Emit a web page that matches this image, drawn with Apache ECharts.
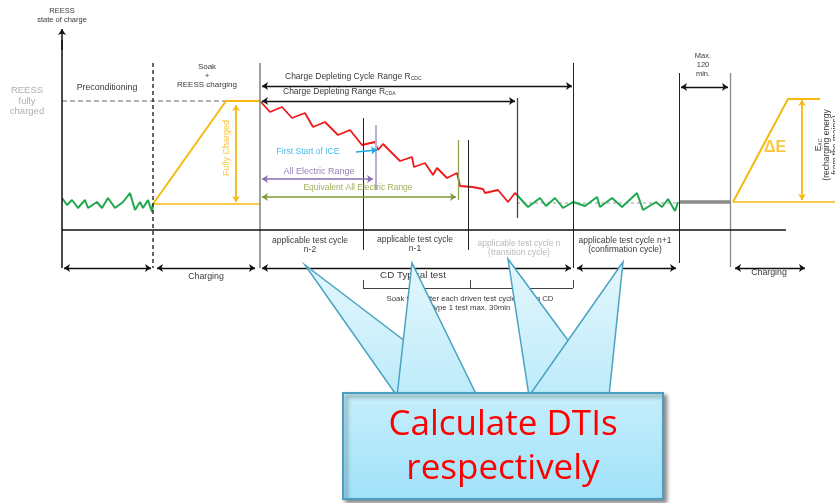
<!DOCTYPE html>
<html><head><meta charset="utf-8">
<script src="https://cdn.jsdelivr.net/npm/echarts@6/dist/echarts.min.js"></script>
<style>html,body{margin:0;padding:0;background:#fff}#c{width:835px;height:503px}</style>
</head><body><div id="c"></div><script>
// ---- data (t = time units from origin, s = state-of-charge units above the time axis) ----
const greenPrecondition = [[0,32],[5,25],[10,30],[16,22],[23,30],[26,22],[35,28],[40,22],[46,32],[53,22],[61,28],[68,37],[73,20],[78,28],[81,22],[86,30],[90,18],[91,27]];
const redChargeDepleting = [[198,129],[208,118],[220,123],[230,112],[243,117],[251,103],[263,108],[276,95],[288,100],[300,85],[313,88],[316,80],[321,86],[338,69],[350,73],[352,63],[363,67],[371,55],[375,62],[385,52],[395,57],[398,44],[410,43],[421,41],[423,37],[436,40],[446,28],[453,37],[455,35]];
const greenChargeSustaining = [[455,35],[466,23],[478,32],[484,24],[493,32],[501,22],[511,28],[523,24],[535,33],[538,23],[550,32],[560,23],[575,37],[581,20],[594,28],[600,23],[606,31],[613,19],[616,28]];
const chargingSoak = [[91,26],[164,129],[198,129]];
const chargingSoakBase = [[91,26],[198,26]];
const chargingFinal = [[671,28],[726,131],[758,131]];
const chargingFinalBase = [[671,28],[773,28]];
const fullyChargedLevel = 129;
const sustainLevel = 27;
const cycleLabels = ['applicable test cycle\nn-2','applicable test cycle\nn-1','applicable test cycle n\n(transition cycle)','applicable test cycle n+1\n(confirmation cycle)'];
const calloutText = 'Calculate DTIs\nrespectively';

const FONT = '"Liberation Sans", Arial, sans-serif';
const GREEN = '#1fa84f', RED = '#f01818', YEL = '#f5b90f', INK = '#000';

function poly(data, color, width, type, z) {
  return {type:'line', data, symbol:'none', silent:true, animation:false, z: z||3,
    lineStyle:{color, width, type: type||'solid'}};
}
function segs(items, symbol, size) {
  return {type:'lines', coordinateSystem:'cartesian2d', silent:true, animation:false, z:4,
    symbol: symbol || 'none', symbolSize: size || 6,
    data: items.map(([a,b,c,d,color,width,type]) => ({coords:[[a,b],[c,d]], lineStyle:{color, width:width||1, type:type||'solid', opacity:1}}))};
}
function txt(t, s, text, o) {
  o = o || {};
  const col = o.color || INK;
  return {value:[t,s], label:{show:true, position:'inside', formatter:text, color:col,
    fontSize:o.size||8.5, fontFamily:FONT, fontWeight:o.bold?'bold':'normal', lineHeight:o.lh||9,
    align:o.align||'center', rotate:o.rotate||0,
    rich:{sub:{fontSize:5, fontFamily:FONT, color:col, verticalAlign:'bottom', padding:[5,0,0,0]}}}};
}

const verticals = [
  [91,167,91,-38,'#333',1.5,[4,3]],
  [198,167,198,-38,'#8a8a8a',1.6],
  [301,112,301,-20,'#222',1],
  [314,105,314,40,'#b9b0d4',2],
  [396,90,396,30,'#8fa54e',1.3],
  [406,90,406,-20,'#222',1],
  [455,132,455,12,'#444',1.3],
  [511,167,511,-38,'#222',1],
  [617,157,617,-33,'#222',1],
  [668,157,668,-37,'#8a8a8a',1.3],
  [0,0,724,0,'#111',1.5],
  [0,-38,0,190,'#111',1.5],
  [301,-50,301,-58,'#444',1],[408,-50,408,-58,'#444',1],[511,-50,511,-58,'#444',1],[301,-58,511,-58,'#444',1]
];
const doubleArrows = [
  [2,-38,89,-38,'#111',1.3],[95,-38,193,-38,'#111',1.3],[200,-38,509,-38,'#111',1.3],
  [515,-38,614,-38,'#111',1.3],[673,-38,743,-38,'#111',1.3],
  [200,144,510,144,'#111',1.3],[200,129,453,129,'#111',1.3],[619,143,666,143,'#111',1.3],
  [200,51,311,51,'#8a6fb0',1.5],[200,33,394,33,'#7d9a3a',1.5],
  [174,125,174,28,YEL,1.8],[740,130,740,30,YEL,1.8]
];
const singleArrows = [[294,78,315,80,'#1aa8e6',1.5],[0,180,0,201,'#111',1.5]];

const labels = [
  txt(0,219,'REESS',{size:7.5}), txt(0,210,'state of charge',{size:7.5}),
  txt(-35,129,'REESS\nfully\ncharged',{color:'#9a9a9a',size:9.5,lh:10.5}),
  txt(45,142,'Preconditioning',{size:8.8}),
  txt(145,154,'Soak\n+\nREESS charging',{size:8,lh:9}),
  txt(165,82,'Fully Charged',{color:YEL,size:9,rotate:90}),
  txt(223,153,'Charge Depleting Cycle Range R{sub|CDC}',{size:8.5,align:'left'}),
  txt(221,138,'Charge Depleting Range R{sub|CDA}',{size:8.5,align:'left'}),
  txt(246,78,'First Start of ICE',{color:'#1aa8e6',size:8.5}),
  txt(257,58,'All Electric Range',{color:'#7a5fa8',size:9}),
  txt(296,42,'Equivalent All Electric Range',{color:'#8c9a2a',size:8.5}),
  txt(248,-15.5,cycleLabels[0]), txt(353,-14,cycleLabels[1]),
  txt(457,-18.5,cycleLabels[2],{color:'#a8a8a8'}), txt(563,-15.5,cycleLabels[3]),
  txt(144,-47,'Charging',{size:8.8}), txt(707,-43,'Charging',{size:8.8}),
  txt(351,-45,'CD Typical test',{size:9.8}),
  txt(408,-73.5,'Soak time after each driven test cycle during CD\nType 1 test max. 30min',{size:7.8}),
  txt(641,165,'Max.\n120\nmin.',{size:7.5}),
  txt(713,82,'ΔE',{color:YEL,size:16,bold:true}),
  txt(765,85,'E{sub|AC}\n(recharging energy\nfrom the mains)',{size:8.5,rotate:90,lh:8.5})
];

const callout = {
  type:'custom', coordinateSystem:'cartesian2d', silent:true, animation:false, z:10,
  data:[[0,0]],
  renderItem:(params, api) => {
    const P = (t,s) => api.coord([t,s]);
    const tips = [[243,-35,335,415],[350,-33,335,415],[446,-29,467,547],[561,-32,467,547]];
    const grad = (a,b) => ({type:'linear',x:0,y:0,x2:0,y2:1,colorStops:[{offset:0,color:a},{offset:1,color:b}]});
    const children = tips.map(([t,s,b1,b2]) => ({type:'polygon',
      shape:{points:[P(t,s),P(b1,-166),P(b2,-166)]},
      style:{fill:grad('#e4f7fd','#bdebfa'), stroke:'#4aa3c2', lineWidth:1.5}}));
    const tl = P(281,-163), br = P(601,-269);
    children.push({type:'rect', shape:{x:tl[0],y:tl[1],width:br[0]-tl[0],height:br[1]-tl[1]},
      style:{fill:grad('#c6eefb','#a0e2fa'), stroke:'#4a9fc0', lineWidth:2,
        shadowBlur:4, shadowOffsetX:3, shadowOffsetY:3, shadowColor:'rgba(0,0,0,0.45)'}});
    const c = P(441,-216);
    children.push({type:'text', style:{text:calloutText, x:c[0], y:c[1]+1, align:'center', verticalAlign:'middle',
      fill:'#ff0000', fontSize:35, fontFamily:'"Open Sans", "Noto Sans", sans-serif', lineHeight:44}});
    return {type:'group', children};
  }
};

const chart = echarts.init(document.getElementById('c'), null, {renderer:'canvas'});
chart.setOption({
  animation:false,
  grid:{left:0,right:0,top:0,bottom:0},
  xAxis:{type:'value', min:-62, max:773, show:false},
  yAxis:{type:'value', min:-273, max:230, show:false},
  series:[
    poly([[0,fullyChargedLevel],[198,fullyChargedLevel]],'#9a9a9a',1.5,[5,3],2),
    poly([[455,sustainLevel],[617,sustainLevel]],'#999',1,[3,3],2),
    poly([[618,28],[668,28]],'#8a8a8a',3.5),
    poly(greenPrecondition, GREEN, 2),
    poly(redChargeDepleting, RED, 1.8),
    poly(greenChargeSustaining, GREEN, 2),
    poly(chargingSoak, YEL, 2), poly(chargingSoakBase, YEL, 1.6),
    poly(chargingFinal, YEL, 2), poly(chargingFinalBase, YEL, 1.6),
    segs(verticals,'none'),
    segs(doubleArrows,['arrow','arrow'],6),
    segs(singleArrows,['none','arrow'],6),
    {type:'scatter', data:labels, symbolSize:1, itemStyle:{color:'rgba(0,0,0,0)'}, silent:true, animation:false, z:5},
    callout
  ]
});
</script></body></html>
